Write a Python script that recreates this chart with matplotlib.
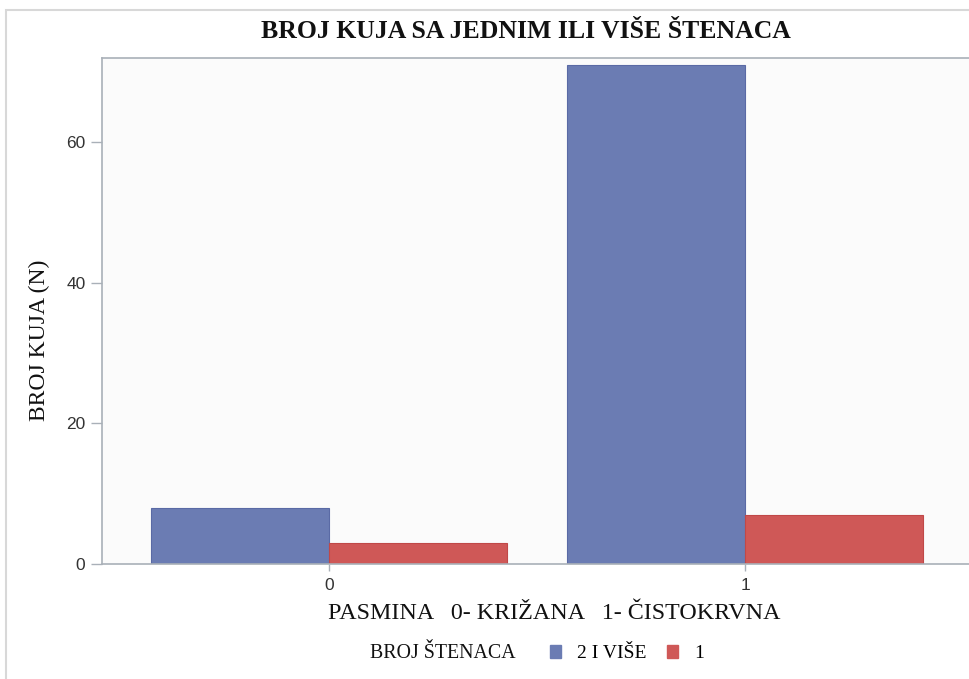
import numpy as np
import matplotlib.pyplot as plt
from matplotlib.patches import Patch, Rectangle

# data
pasmina = ["0", "1"]
vise = [8, 71]      # 2 I VIŠE
jedan = [3, 7]      # 1
series_labels = ["2 I VIŠE", "1"]

blue = "#6b7cb3"
red = "#cf5857"
serif = "Liberation Serif"
sans = "Liberation Sans"

fig = plt.figure(figsize=(9.7, 6.79), dpi=100)
fig.patch.set_facecolor("white")
# faint outer frame of the screenshot
fig.patches.append(Rectangle((0.006, -0.01), 1.1, 0.995, transform=fig.transFigure,
                             fill=False, edgecolor="#d8d8d8", linewidth=1.5))

ax = fig.add_axes([0.1052, 0.1694, 0.8948, 0.7452])
ax.set_facecolor("#fbfbfb")

x = np.arange(len(pasmina))
w = 0.428
ax.bar(x - w / 2, vise, w, color=blue, edgecolor="#5a6aa5", linewidth=0.8)
ax.bar(x + w / 2, jedan, w, color=red, edgecolor="#c04848", linewidth=0.8)

ax.set_xlim(-0.546, 1.541)
ax.set_ylim(0, 72)
ax.set_yticks([0, 20, 40, 60])
ax.set_xticks(x)
ax.set_xticklabels(pasmina)

for s in ["left", "bottom", "top"]:
    ax.spines[s].set_color("#a9b0b8")
    ax.spines[s].set_linewidth(1.2)
ax.spines["right"].set_visible(False)
ax.tick_params(axis="both", colors="#a9b0b8", length=8, width=1.0,
               labelcolor="#333333", labelsize=12.5)
for t in ax.get_yticklabels() + ax.get_xticklabels():
    t.set_family(sans)
ax.tick_params(axis="y", pad=4)
ax.tick_params(axis="x", pad=5, length=5)

ax.set_ylabel("BROJ KUJA (N)", fontsize=17, family=serif, color="#111111")
ax.yaxis.set_label_coords(-0.06, 0.443)
fig.text(0.542, 0.953, "BROJ KUJA SA JEDNIM ILI VIŠE ŠTENACA", ha="center", va="center",
         fontsize=18.5, fontweight="bold", family=serif, color="#111111")
fig.text(0.571, 0.097, "PASMINA   0- KRIŽANA   1- ČISTOKRVNA", ha="center", va="center",
         fontsize=17.3, family=serif, color="#111111")
fig.text(0.381, 0.037, "BROJ ŠTENACA", ha="left", va="center",
         fontsize=14.3, family=serif, color="#111111")

handles = [Patch(facecolor=blue, edgecolor=blue), Patch(facecolor=red, edgecolor=red)]
leg = fig.legend(handles, series_labels, loc="center left", bbox_to_anchor=(0.553, 0.037),
                 ncol=2, frameon=False, handlelength=0.55, handleheight=0.6,
                 handletextpad=0.85, columnspacing=1.05, borderpad=0.2,
                 prop={"family": serif, "size": 14})

fig.savefig("out.png", dpi=100)
